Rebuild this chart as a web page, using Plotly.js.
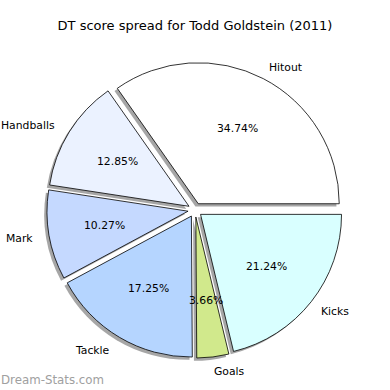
<!DOCTYPE html>
<html>
<head>
<meta charset="utf-8">
<script src="https://cdn.plot.ly/plotly-3.0.1.min.js"></script>
<style>html,body{margin:0;padding:0;background:#fff;}#chart{width:390px;height:390px;}</style>
</head>
<body>
<div id="chart"></div>
<script>
// ---- data ----
const categories = ["Hitout", "Handballs", "Mark", "Tackle", "Goals", "Kicks"];
const percentages = [34.74, 12.85, 10.27, 17.25, 3.66, 21.24];
const sliceColors = ["#ffffff", "#ebf2ff", "#c5d9ff", "#b5d5ff", "#d1e98c", "#d9ffff"];
const chartTitle = "DT score spread for Todd Goldstein (2011)";
const watermark = "Dream-Stats.com";

// ---- layout constants ----
const W = 390, H = 390;
const CX = 195, CY = 210;      // pie centre in px
const R = 141;                 // radius in px
const PULL = 0.05;
const SH = 2.8;                // shadow offset px (left & down)
const FONT = "DejaVu Sans, sans-serif";

const half = R * (1 + PULL);
function dom(cx, cy) {
  return {x: [(cx - half) / W, (cx + half) / W], y: [1 - (cy + half) / H, 1 - (cy - half) / H]};
}

const total = percentages.reduce((a, b) => a + b, 0);
const pulls = categories.map(() => PULL);
// Plotly (counterclockwise): first slice lies clockwise of `rotation`.
// We want the first slice to start at 3 o'clock and run counterclockwise.
const rot = 90 - 360 * percentages[0] / total;

const shadow = {
  type: "pie", values: percentages, labels: categories, sort: false,
  direction: "counterclockwise", rotation: rot, pull: pulls,
  marker: {colors: categories.map(() => "rgba(77,77,77,0.5)"), line: {width: 0}},
  textinfo: "none", hoverinfo: "skip", showlegend: false,
  domain: dom(CX - SH, CY + SH)
};
const main = {
  type: "pie", values: percentages, labels: categories, sort: false,
  direction: "counterclockwise", rotation: rot, pull: pulls,
  marker: {colors: sliceColors, line: {color: "#000000", width: 0.8}},
  textinfo: "none", showlegend: false,
  domain: dom(CX, CY)
};

// annotations derived from values
const annotations = [];
let cum = 0;
percentages.forEach((v, i) => {
  const t1 = cum / total * 360, t2 = (cum + v) / total * 360;
  cum += v;
  const mid = (t1 + t2) / 2 * Math.PI / 180;
  const c = Math.cos(mid), s = Math.sin(mid);
  const off = PULL * R;
  const lx = CX + (1.1 * R + off) * c, ly = CY - (1.1 * R + off) * s;
  const px = CX + (0.6 * R + off) * c, py = CY - (0.6 * R + off) * s;
  annotations.push({
    text: categories[i], x: lx / W, y: 1 - ly / H, xref: "paper", yref: "paper",
    xanchor: c > 0 ? "left" : "right", yanchor: "middle", showarrow: false,
    xshift: c > 0 ? -3 : 0, yshift: -1,
    font: {family: FONT, size: 10.8, color: "#000"}
  });
  annotations.push({
    text: (v / total * 100).toFixed(2) + "%", x: px / W, y: 1 - py / H, xref: "paper", yref: "paper",
    xanchor: "center", yanchor: "middle", showarrow: false,
    font: {family: FONT, size: 10.8, color: "#000"}
  });
});
annotations.push({
  text: watermark, x: 0, y: 1 - 380 / H, xref: "paper", yref: "paper",
  xanchor: "left", yanchor: "middle", showarrow: false, xshift: -1,
  font: {family: FONT, size: 11.8, color: "#a0a0a0"}
});

const layout = {
  width: W, height: H, margin: {l: 0, r: 0, t: 0, b: 0},
  paper_bgcolor: "#ffffff", plot_bgcolor: "#ffffff",
  title: {text: chartTitle, x: 0.5, xanchor: "center", y: 1 - 25 / H, yanchor: "middle",
          font: {family: FONT, size: 13, color: "#000"}},
  annotations: annotations, showlegend: false
};

Plotly.newPlot("chart", [shadow, main], layout, {displayModeBar: false, staticPlot: true});
</script>
</body>
</html>
